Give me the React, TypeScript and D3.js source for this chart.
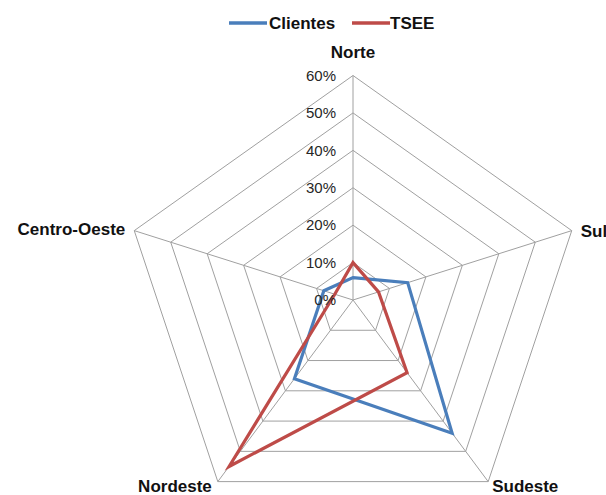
import React from "react";
import * as d3 from "d3";

const categories = ["Norte", "Sul", "Sudeste", "Nordeste", "Centro-Oeste"];
const clientes = [0.06, 0.15, 0.44, 0.26, 0.08];
const tsee = [0.1, 0.07, 0.24, 0.55, 0.05];
const ticks = [0, 0.1, 0.2, 0.3, 0.4, 0.5, 0.6];

const W = 606;
const H = 495;
const cx = 353;
const cy = 300;
const Rx = 230;
const Ry = 224.5;
const FONT = "'Liberation Sans', Arial, sans-serif";

const r = d3.scaleLinear().domain([0, 0.6]).range([0, 1]);
const angle = d3
  .scaleLinear()
  .domain([0, categories.length])
  .range([0, 2 * Math.PI]);

function pt(i: number, v: number): [number, number] {
  const a = angle(i);
  return [cx + Rx * r(v) * Math.sin(a), cy - Ry * r(v) * Math.cos(a)];
}

const closedLine = d3
  .line<[number, number]>()
  .x((d) => d[0])
  .y((d) => d[1])
  .curve(d3.curveLinearClosed);

const series = [
  { name: "Clientes", values: clientes, color: "#4a7ebb" },
  { name: "TSEE", values: tsee, color: "#be4b48" },
];

// label placement per axis: anchor and offset from the outer vertex
const labelPos = [
  { anchor: "middle", dx: 0, dy: -23 },
  { anchor: "start", dx: 9, dy: 0 },
  { anchor: "start", dx: 4, dy: 4 },
  { anchor: "end", dx: -6, dy: 4 },
  { anchor: "end", dx: -9, dy: -2 },
];

export default function App() {
  const gridColor = "#a0a0a0";
  return (
    <svg
      width={W}
      height={H}
      style={{ position: "absolute", left: 0, top: 0, background: "#fff" }}
    >
      {/* concentric pentagons */}
      {ticks.slice(1).map((t) => (
        <path
          key={t}
          d={closedLine(categories.map((_, i) => pt(i, t))) || ""}
          fill="none"
          stroke={gridColor}
          strokeWidth={1}
        />
      ))}
      {/* spokes */}
      {categories.map((c, i) => {
        const [x, y] = pt(i, 0.6);
        return (
          <line key={c} x1={cx} y1={cy} x2={x} y2={y} stroke={gridColor} strokeWidth={1} />
        );
      })}
      {/* series */}
      {series.map((s) => (
        <path
          key={s.name}
          d={closedLine(s.values.map((v, i) => pt(i, v))) || ""}
          fill="none"
          stroke={s.color}
          strokeWidth={3.2}
          strokeLinejoin="miter"
        />
      ))}
      {/* radial tick labels */}
      {ticks.map((t) => {
        const [, y] = pt(0, t);
        return (
          <text
            key={t}
            x={cx - 17}
            y={y}
            dy="0.35em"
            textAnchor="end"
            fontFamily={FONT}
            fontSize={15}
            fill="#262626"
          >
            {d3.format(".0%")(t)}
          </text>
        );
      })}
      {/* category labels */}
      {categories.map((c, i) => {
        const [x, y] = pt(i, 0.6);
        const p = labelPos[i];
        return (
          <text
            key={c}
            x={x + p.dx}
            y={y + p.dy}
            dy="0.35em"
            textAnchor={p.anchor}
            fontFamily={FONT}
            fontSize={17}
            fontWeight="bold"
            fill="#111"
          >
            {c}
          </text>
        );
      })}
      {/* legend */}
      <g fontFamily={FONT} fontSize={17} fontWeight="bold" fill="#111">
        <line x1={229} x2={267} y1={23} y2={23} stroke={series[0].color} strokeWidth={3.5} />
        <text x={269} y={23} dy="0.35em">
          {series[0].name}
        </text>
        <line x1={352} x2={390} y1={23} y2={23} stroke={series[1].color} strokeWidth={3.5} />
        <text x={390} y={23} dy="0.35em">
          {series[1].name}
        </text>
      </g>
    </svg>
  );
}
